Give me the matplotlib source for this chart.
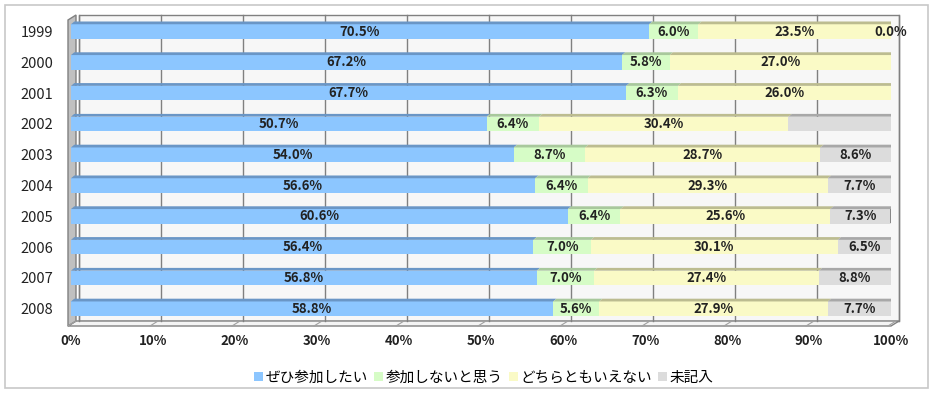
import matplotlib
matplotlib.use("Agg")
import matplotlib.pyplot as plt
from matplotlib.patches import Polygon, Rectangle, Patch

plt.rcParams['font.family'] = ['Noto Sans CJK JP', 'DejaVu Sans']

# data
years = ["1999", "2000", "2001", "2002", "2003", "2004", "2005", "2006", "2007", "2008"]
series_names = ["ぜひ参加したい", "参加しないと思う", "どちらともいえない", "未記入"]
want = [70.5, 67.2, 67.7, 50.7, 54.0, 56.6, 60.6, 56.4, 56.8, 58.8]
not_join = [6.0, 5.8, 6.3, 6.4, 8.7, 6.4, 6.4, 7.0, 7.0, 5.6]
neither = [23.5, 27.0, 26.0, 30.4, 28.7, 29.3, 25.6, 30.1, 27.4, 27.9]
no_answer = [0.0, 0.0, 0.0, 12.5, 8.6, 7.7, 7.3, 6.5, 8.8, 7.7]
# which 未記入 values carry a label in the original
no_answer_labelled = [True, False, False, False, True, True, True, True, True, True]
x_ticks = [0, 10, 20, 30, 40, 50, 60, 70, 80, 90, 100]

face_colors = ["#8cc6ff", "#d6fcc6", "#fafac6", "#dcdcdc"]
top_colors = ["#6a96c6", "#a8c89c", "#bcbc90", "#a8a8a8"]

W, H = 933, 393
fig = plt.figure(figsize=(W / 100, H / 100), dpi=100)

# background decoration in pixel coordinates
bg = fig.add_axes([0, 0, 1, 1], zorder=0)
bg.set_xlim(0, W)
bg.set_ylim(H, 0)
bg.axis('off')
bg.add_patch(Rectangle((5, 5), 923, 383, facecolor='white', edgecolor='#c8c8c8', lw=1.2))

x0, x1 = 71, 891          # front plane, 0% .. 100%
top, bottom = 20, 326     # front plane
dx, dy = 8, 5             # depth offset to back wall
scale = (x1 - x0) / 100.0

# back wall
bg.add_patch(Rectangle((x0 + dx, top - dy), x1 - x0, bottom - top, facecolor='#f7f7f7',
                       edgecolor='#808080', lw=1.0))
for t in x_ticks:
    gx = x0 + dx + t * scale
    bg.plot([gx, gx], [top - dy, bottom - dy], color='#808080', lw=1.0)
# floor
bg.add_patch(Polygon([(x0 - 3, bottom), (x1, bottom), (x1 + dx, bottom - dy), (x0 + dx - 3, bottom - dy)],
                     closed=True, facecolor='#f4f4f4', edgecolor='#808080', lw=1.0))
for t in x_ticks:
    fx = x0 - 3 + t * scale
    bg.plot([fx, fx + dx], [bottom, bottom - dy], color='#a0a0a0', lw=0.8)
# left wall
bg.add_patch(Polygon([(x0 - 3, top), (x0 + dx - 3, top - dy), (x0 + dx - 3, bottom - dy), (x0 - 3, bottom)],
                     closed=True, facecolor='#c0c0c0', edgecolor='#808080', lw=1.0))

# data axes (front plane)
ax = fig.add_axes([x0 / W, (H - bottom) / H, (x1 - x0) / W, (bottom - top) / H], zorder=1)
ax.patch.set_alpha(0)
for s in ax.spines.values():
    s.set_visible(False)

ypos = list(range(len(years)))
bar_h = 0.47
sdx, sdy = 0.4, 0.09

series = [want, not_join, neither, no_answer]
left = [0.0] * len(years)
for si, vals in enumerate(series):
    ax.barh(ypos, vals, left=left, height=bar_h, color=face_colors[si], edgecolor='none', zorder=2)
    for i, v in enumerate(vals):
        l = left[i]
        yt = ypos[i] - bar_h / 2
        if v > 0:
            ax.add_patch(Polygon([(l, yt), (l + v, yt), (l + v + sdx, yt - sdy), (l + sdx, yt - sdy)],
                                 closed=True, facecolor=top_colors[si], edgecolor='none', zorder=3))
        show = v > 0 if si < 3 else no_answer_labelled[i]
        if show:
            ax.text(l + v / 2, ypos[i], f"{v:.1f}%", ha='center', va='center', fontsize=9.5,
                    fontweight='bold', color='#222222', zorder=5)
    left = [a + b for a, b in zip(left, vals)]

# dark end caps
for i in ypos:
    yt = i - bar_h / 2
    yb = i + bar_h / 2
    ax.add_patch(Polygon([(left[i], yt), (left[i] + sdx, yt - sdy), (left[i] + sdx, yb - sdy), (left[i], yb)],
                         closed=True, facecolor='#707070', edgecolor='none', zorder=4))

ax.set_xlim(0, 100)
ax.set_ylim(9 + (bottom - 308.7) / 30.8, -(31.5 - top) / 30.8)
ax.set_xticks(x_ticks)
ax.set_xticklabels([f"{t}%" for t in x_ticks], fontsize=9.5, fontweight='bold', color='#222222')
ax.set_yticks(ypos)
ax.set_yticklabels(years, fontsize=10.5, color='#222222')
ax.tick_params(axis='x', length=0, pad=6)
ax.tick_params(axis='y', length=0, pad=13)

handles = [Patch(facecolor=c, edgecolor='none') for c in face_colors]
fig.legend(handles, series_names, loc='center', bbox_to_anchor=(484 / W, (H - 378) / H), ncol=4,
           frameon=False, fontsize=10.5, handlelength=0.6, handleheight=0.6, handletextpad=0.2,
           columnspacing=0.4)

fig.savefig("out.png", dpi=100)
